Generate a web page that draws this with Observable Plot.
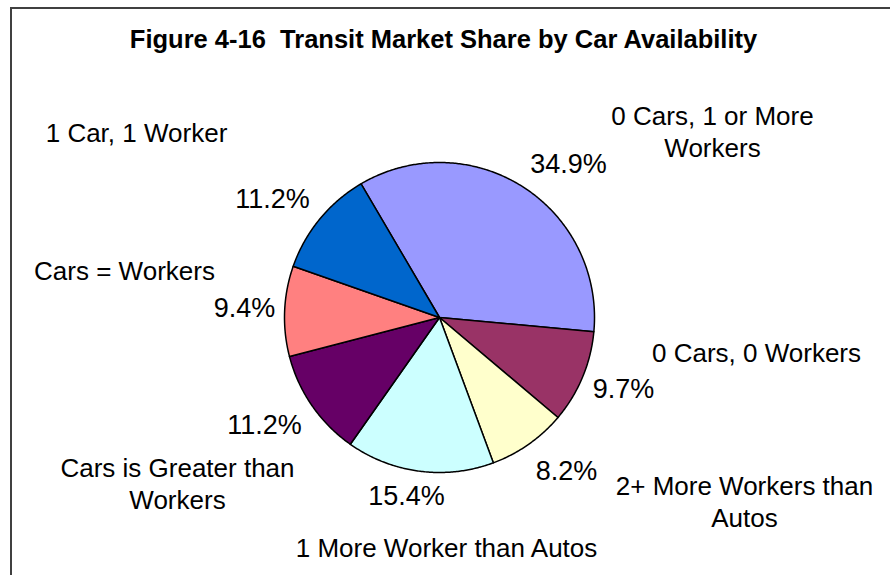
<!DOCTYPE html>
<html>
<head>
<meta charset="utf-8">
<script src="https://cdn.jsdelivr.net/npm/d3@7"></script>
<script src="https://cdn.jsdelivr.net/npm/@observablehq/plot@0.6"></script>
<style>
  html, body { margin: 0; padding: 0; background: #fff; }
  #wrap { position: relative; width: 890px; height: 575px; overflow: hidden; }
  #border { position: absolute; left: 10px; top: 7px; width: 900px; height: 600px;
            border-left: 2px solid #404040; border-top: 2px solid #404040; }
  #chart { position: absolute; left: 0; top: 0; }
</style>
</head>
<body>
<div id="wrap"><div id="border"></div><div id="chart"></div></div>
<script>
// ---- data ----
const title = "Figure 4-16  Transit Market Share by Car Availability";
const categories = [
  "0 Cars, 1 or More Workers",
  "0 Cars, 0 Workers",
  "2+ More Workers than Autos",
  "1 More Worker than Autos",
  "Cars is Greater than Workers",
  "Cars = Workers",
  "1 Car, 1 Worker"
];
const categoryLabels = [
  "0 Cars, 1 or More\nWorkers",
  "0 Cars, 0 Workers",
  "2+ More Workers than\nAutos",
  "1 More Worker than Autos",
  "Cars is Greater than\nWorkers",
  "Cars = Workers",
  "1 Car, 1 Worker"
];
const shares = [34.9, 9.7, 8.2, 15.4, 11.2, 9.4, 11.2];
const colors = ["#9999FF", "#993366", "#FFFFCC", "#CCFFFF", "#660066", "#FF8080", "#0066CC"];

// ---- layout (pixels relative to pie centre, y up) ----
const CX = 439, CY = 317, R = 155;
const firstSliceAngle = -30.4; // degrees clockwise from 12 o'clock
const valueLabelPos = [[129, 153], [184, -72], [127, -154], [-33, -179], [-175, -108], [-195, 9], [-167, 118]];
const categoryLabelPos = [[273, 187], [317, -34], [305, -183], [7, -229], [-262, -165], [-315, 48], [-303, 186]];

const start = firstSliceAngle * Math.PI / 180;
const arcs = d3.pie().sort(null).startAngle(start).endAngle(start + 2 * Math.PI)(shares);

const pts = [];
arcs.forEach((a, i) => {
  const n = Math.max(2, Math.ceil((a.endAngle - a.startAngle) / (Math.PI / 360)));
  pts.push({key: categories[i], color: colors[i], x: 0, y: 0});
  for (let k = 0; k <= n; k++) {
    const t = a.startAngle + (a.endAngle - a.startAngle) * k / n;
    pts.push({key: categories[i], color: colors[i], x: R * Math.sin(t), y: R * Math.cos(t)});
  }
  pts.push({key: categories[i], color: colors[i], x: 0, y: 0});
});

const fmt = d3.format(".1f");
const valueLabels = shares.map((v, i) => ({text: fmt(v) + "%", x: valueLabelPos[i][0], y: valueLabelPos[i][1]}));
const catLabels = categoryLabels.map((t, i) => ({text: t, x: categoryLabelPos[i][0], y: categoryLabelPos[i][1]}));

const font = "'Liberation Sans', Arial, sans-serif";
const plot = Plot.plot({
  width: 890,
  height: 575,
  margin: 0,
  x: {domain: [-CX, 890 - CX], axis: null},
  y: {domain: [CY - 575, CY], axis: null},
  style: {background: "transparent", fontFamily: font, overflow: "visible"},
  marks: [
    Plot.line(pts, {x: "x", y: "y", z: "key", fill: "color", stroke: "#000", strokeWidth: 1.5, strokeLinejoin: "round"}),
    Plot.text(valueLabels, {x: "x", y: "y", text: "text", fontSize: 27, fill: "#000", textAnchor: "middle", fontFamily: font}),
    Plot.text(catLabels, {x: "x", y: "y", text: "text", fontSize: 26, fill: "#000", textAnchor: "middle", lineHeight: 1.25, fontFamily: font}),
    Plot.text([title], {x: () => 4, y: () => 278, text: d => d, fontSize: 25.5, fontWeight: "bold", fill: "#000", textAnchor: "middle", fontFamily: font})
  ]
});
document.getElementById("chart").appendChild(plot);
</script>
</body>
</html>
